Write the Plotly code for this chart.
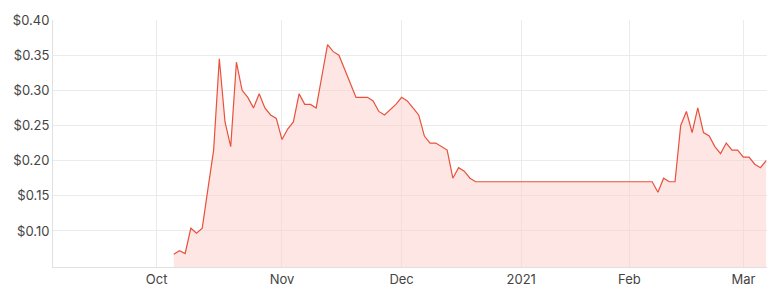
import pandas as pd
import plotly.graph_objects as go

# Trading days (ASX) shown on the category axis
holidays = ["2020-12-25", "2020-12-28", "2021-01-01", "2021-01-26"]
days = [d.strftime("%Y-%m-%d") for d in pd.bdate_range("2020-09-07", "2021-03-05")
        if d.strftime("%Y-%m-%d") not in holidays]

prices = [None] * 21 + [
    0.067, 0.072, 0.068, 0.104, 0.097, 0.104, 0.16, 0.215, 0.345, 0.255,
    0.22, 0.34, 0.30, 0.29, 0.275, 0.295, 0.275, 0.265, 0.26, 0.23,
    0.245, 0.255, 0.295, 0.28, 0.28, 0.275, 0.32, 0.365, 0.355, 0.35,
    0.33, 0.31, 0.29, 0.29, 0.29, 0.285, 0.27, 0.265, 0.273, 0.28,
    0.29, 0.285, 0.275, 0.265, 0.235, 0.225, 0.225, 0.22, 0.215, 0.175,
    0.19, 0.185, 0.175, 0.17,
    0.17, 0.17, 0.17, 0.17, 0.17, 0.17, 0.17, 0.17, 0.17, 0.17,
    0.17, 0.17, 0.17, 0.17, 0.17, 0.17, 0.17, 0.17, 0.17, 0.17,
    0.17, 0.17, 0.17, 0.17, 0.17, 0.17, 0.17, 0.17, 0.17, 0.17, 0.17,
    0.155, 0.175, 0.17, 0.17, 0.25, 0.27, 0.24, 0.275, 0.24, 0.235,
    0.22, 0.21, 0.225, 0.215, 0.215, 0.205, 0.205, 0.195, 0.19, 0.20,
]

tick_dates = ["2020-10-01", "2020-11-02", "2020-12-01", "2021-01-04", "2021-02-01", "2021-03-01"]
tick_text = ["Oct", "Nov", "Dec", "2021", "Feb", "Mar"]
y_ticks = [0.10, 0.15, 0.20, 0.25, 0.30, 0.35, 0.40]

fig = go.Figure()
fig.add_trace(go.Scatter(
    x=days, y=prices, mode="lines",
    line=dict(color="#e8513b", width=1.2),
    fill="tozeroy", fillcolor="rgba(251, 206, 199, 0.5)",
    hoverinfo="skip", connectgaps=False,
))

fig.update_layout(
    width=781, height=300,
    margin=dict(l=53, r=14, t=18, b=33),
    paper_bgcolor="white", plot_bgcolor="white",
    showlegend=False,
    font=dict(family="Inter, Open Sans, sans-serif", size=13, color="#444"),
)
fig.update_xaxes(
    type="category", range=[-0.2, 125.15],
    tickmode="array", tickvals=tick_dates, ticktext=tick_text,
    showgrid=True, gridcolor="#ebebeb", gridwidth=1,
    showline=True, linecolor="#e0e0e0", linewidth=1,
    ticks="", zeroline=False,
)
fig.update_yaxes(
    range=[0.0488, 0.40],
    tickmode="array", tickvals=y_ticks, tickformat="$.2f",
    showgrid=True, gridcolor="#ebebeb", gridwidth=1,
    showline=True, linecolor="#e0e0e0", linewidth=1,
    ticks="", zeroline=False,
)

fig.write_html("out.html")
